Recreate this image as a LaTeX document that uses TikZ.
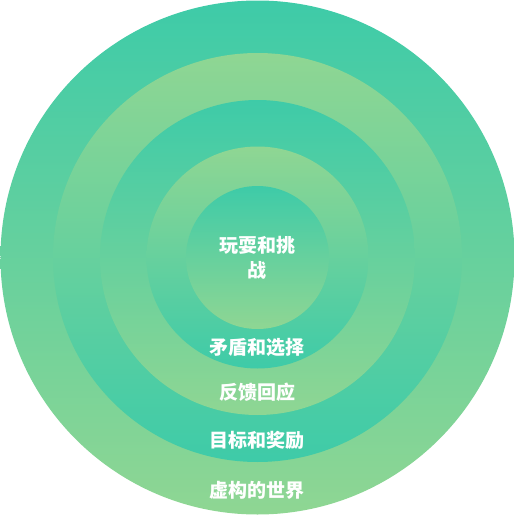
\documentclass[tikz,border=0pt]{standalone}
\usepackage{fontspec}
\newfontfamily\cjk{Noto Sans CJK SC}
\definecolor{ringteal}{HTML}{3ECBA8}
\definecolor{ringgreen}{HTML}{8FD693}
\begin{document}
\begin{tikzpicture}[x=1pt,y=1pt,
		tealtop/.style={top color=ringteal,bottom color=ringgreen},
		greentop/.style={top color=ringgreen,bottom color=ringteal},
		lbl/.style={text=white,font=\cjk\bfseries\fontsize{19}{25}\selectfont,align=center,inner sep=0pt}]
		\useasboundingbox (-257.5,-257.5) rectangle (257.5,257.5);
		
		\shade [tealtop] (0,0) circle (257pt);
		\shade [greentop] (0,0) circle (204.5pt);
		\shade [tealtop] (0,0) circle (157.5pt);
		\shade [greentop] (0,0) circle (111pt);
		\shade [tealtop] (0,0) circle (71.5pt);
		
		\node [lbl] (play) at (0,0) {玩耍和挑\\战};
		\node [lbl] (choice) at (0,-89.5) {矛盾和选择};
		\node [lbl] (feedback) at (0,-134.5) {反馈回应};
		\node [lbl] (reward) at (0,-182.5) {目标和奖励};
		\node [lbl] (world) at (0,-232.5) {虚构的世界};
		\end{tikzpicture}
\end{document}
